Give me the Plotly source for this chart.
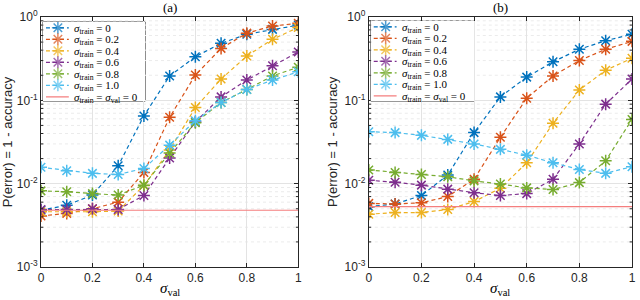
import plotly.graph_objects as go

# ---------------- data ----------------
sigma_val = [0.0, 0.1, 0.2, 0.3, 0.4, 0.5, 0.6, 0.7, 0.8, 0.9, 1.0]
train_labels = ["0", "0.2", "0.4", "0.6", "0.8", "1.0"]
colors = ["#0072BD", "#D95319", "#EDB120", "#7E2F8E", "#77AC30", "#4DBEEE"]
ref_color = "#F47E7E"

# panel (a)
a_s00 = [0.0048, 0.0055, 0.0073, 0.0164, 0.065, 0.196, 0.334, 0.483, 0.62, 0.71, 0.80]
a_s02 = [0.0041, 0.0044, 0.0050, 0.0060, 0.0136, 0.0625, 0.201, 0.42, 0.64, 0.78, 0.84]
a_s04 = [0.0046, 0.0046, 0.0046, 0.0047, 0.0095, 0.0253, 0.082, 0.18, 0.34, 0.54, 0.75]
a_s06 = [0.0049, 0.0049, 0.0050, 0.0049, 0.0072, 0.0203, 0.055, 0.11, 0.175, 0.26, 0.38]
a_s08 = [0.0082, 0.0080, 0.0076, 0.0073, 0.0096, 0.0233, 0.054, 0.094, 0.135, 0.196, 0.25]
a_s10 = [0.0157, 0.0143, 0.0133, 0.0129, 0.0152, 0.029, 0.057, 0.094, 0.135, 0.175, 0.22]
a_ref = 0.0048

# panel (b)
b_s00 = [0.0053, 0.0057, 0.0072, 0.0127, 0.041, 0.11, 0.19, 0.29, 0.41, 0.52, 0.62]
b_s02 = [0.0058, 0.0057, 0.0059, 0.0070, 0.0113, 0.036, 0.106, 0.196, 0.30, 0.41, 0.51]
b_s04 = [0.0043, 0.0045, 0.0045, 0.0049, 0.0061, 0.0088, 0.0178, 0.053, 0.133, 0.23, 0.32]
b_s06 = [0.0110, 0.0104, 0.0096, 0.0086, 0.0078, 0.0072, 0.0076, 0.0113, 0.030, 0.090, 0.18]
b_s08 = [0.0146, 0.0136, 0.0129, 0.0121, 0.0108, 0.0099, 0.0089, 0.0085, 0.0103, 0.0188, 0.059]
b_s10 = [0.042, 0.041, 0.038, 0.034, 0.030, 0.0258, 0.022, 0.0178, 0.0148, 0.0133, 0.016]
b_ref = 0.0053

x_tickvals = [0, 0.2, 0.4, 0.6, 0.8, 1.0]
x_ticktext = ["0", "0.2", "0.4", "0.6", "0.8", "1"]
y_tickvals = [1e-3, 1e-2, 1e-1, 1]
y_ticktext = ["10<sup>-3</sup>", "10<sup>-2</sup>", "10<sup>-1</sup>", "10<sup>0</sup>"]

panel_a = [a_s00, a_s02, a_s04, a_s06, a_s08, a_s10]
panel_b = [b_s00, b_s02, b_s04, b_s06, b_s08, b_s10]

# ---------------- layout helpers ----------------
W, H = 640, 300
ML, MR, MT, MB = 41, 4, 17, 33
PW, PH = W - ML - MR, H - MT - MB


def px(p):
    return (p - ML) / PW


def py(p):
    return (H - MB - p) / PH


SERIF = "Liberation Serif, DejaVu Serif, serif"
SANS = "Liberation Sans, Arial, sans-serif"
AX = "#262626"
GRID = "#e3e3e3"
MINOR_GRID = "#ebebeb"

fig = go.Figure()


def add_panel(series, ref, xa, ya):
    for vals, c in zip(series, colors):
        fig.add_trace(go.Scatter(
            x=sigma_val, y=vals, mode="lines+markers", xaxis=xa, yaxis=ya,
            line=dict(color=c, width=1.2, dash="4px,3px"),
            marker=dict(symbol="asterisk-open", size=10,
                        line=dict(color=c, width=1.5)),
            showlegend=False, hoverinfo="skip"))
    fig.add_trace(go.Scatter(
        x=[sigma_val[0], sigma_val[-1]], y=[ref, ref], mode="lines",
        xaxis=xa, yaxis=ya, line=dict(color=ref_color, width=1.2),
        showlegend=False, hoverinfo="skip"))


add_panel(panel_a, a_ref, "x", "y")
add_panel(panel_b, b_ref, "x2", "y2")

# ---------------- custom compact legends (MATLAB style) ----------------
legend_texts = ["<i>σ</i><sub>train</sub> = " + t for t in train_labels]
legend_texts.append("<i>σ</i><sub>train</sub> = <i>σ</i><sub>val</sub> = 0")


def add_legend(xa, ya):
    x0, xm, x1, xt = 3, 15, 26, 29
    n = len(legend_texts)
    for i in range(n):
        yrow = 5.8 + 11.5 * i
        if i < len(colors):
            c = colors[i]
            fig.add_trace(go.Scatter(
                x=[x0, xm, x1], y=[yrow] * 3, mode="lines+markers",
                xaxis=xa, yaxis=ya,
                line=dict(color=c, width=1.2, dash="4px,3px"),
                marker=dict(symbol="asterisk-open", size=[0, 10, 0],
                            line=dict(color=c, width=1.5)),
                showlegend=False, hoverinfo="skip"))
        else:
            fig.add_trace(go.Scatter(
                x=[x0, x1], y=[yrow] * 2, mode="lines", xaxis=xa, yaxis=ya,
                line=dict(color=ref_color, width=1.2),
                showlegend=False, hoverinfo="skip"))
        fig.add_annotation(x=xt, y=yrow + 0.8, xref=xa, yref=ya,
                           text=legend_texts[i],
                           showarrow=False, xanchor="left", yanchor="middle",
                           font=dict(family=SERIF, size=11, color="black"))
    fig.add_shape(type="rect", xref=xa + " domain", yref=ya + " domain",
                  x0=0, x1=1, y0=0, y1=1, layer="below",
                  fillcolor="white", line=dict(color="#333333", width=1))


add_legend("x3", "y3")
add_legend("x4", "y4")

# ---------------- axes ----------------
minor_vals = [m * 10 ** e for e in (-3, -2, -1) for m in range(2, 10)]

# minor (dotted) log grid lines and small inside minor ticks
for xa, ya in (("x", "y"), ("x2", "y2")):
    for v in minor_vals:
        fig.add_shape(type="line", xref=xa + " domain", yref=ya,
                      x0=0, x1=1, y0=v, y1=v, layer="below",
                      line=dict(color=MINOR_GRID, width=1, dash="dot"))
        for a, b in ((0, 0.009), (0.991, 1)):
            fig.add_shape(type="line", xref=xa + " domain", yref=ya,
                          x0=a, x1=b, y0=v, y1=v, layer="above",
                          line=dict(color=AX, width=1))


def xaxis_style(domain, anchor):
    return dict(domain=domain, anchor=anchor, range=[0, 1],
                tickmode="array", tickvals=x_tickvals, ticktext=x_ticktext,
                ticks="inside", ticklen=4, tickcolor=AX, tickwidth=1,
                showline=True, linecolor=AX, linewidth=1, mirror="ticks",
                showgrid=True, gridcolor=GRID, gridwidth=1, zeroline=False,
                tickfont=dict(family=SANS, size=12, color="#262626"),
                fixedrange=True)


def yaxis_style(anchor):
    return dict(domain=[0, 1], anchor=anchor, type="log", range=[-3, 0],
                tickmode="array", tickvals=y_tickvals, ticktext=y_ticktext,
                ticks="inside", ticklen=4, tickcolor=AX, tickwidth=1,
                showline=True, linecolor=AX, linewidth=1, mirror="ticks",
                showgrid=True, gridcolor=GRID, gridwidth=1, zeroline=False,
                tickfont=dict(family=SANS, size=12, color="#262626"),
                fixedrange=True)


hidden = dict(visible=False, fixedrange=True, showgrid=False, zeroline=False)

fig.update_layout(
    width=W, height=H,
    margin=dict(l=ML, r=MR, t=MT, b=MB),
    paper_bgcolor="white", plot_bgcolor="white",
    showlegend=False,
    xaxis=xaxis_style([0, px(300)], "y"),
    yaxis=yaxis_style("x"),
    xaxis2=xaxis_style([px(371), 1], "y2"),
    yaxis2=yaxis_style("x2"),
    xaxis3=dict(hidden, domain=[px(43), px(146)], anchor="y3", range=[0, 103]),
    yaxis3=dict(hidden, domain=[py(101), py(22)], anchor="x3", range=[79, 0]),
    xaxis4=dict(hidden, domain=[px(373), px(477)], anchor="y4", range=[0, 104]),
    yaxis4=dict(hidden, domain=[py(101), py(21)], anchor="x4", range=[80, 0]),
)

# titles, axis labels
for xd, label in (("x domain", "(a)"), ("x2 domain", "(b)")):
    fig.add_annotation(x=0.5, y=py(8), xref=xd, yref="paper", text=label,
                       showarrow=False, xanchor="center", yanchor="middle",
                       font=dict(family=SERIF, size=13, color="black"))
    fig.add_annotation(x=0.5, y=py(289), xref=xd, yref="paper",
                       text="<i>σ</i><sub>val</sub>", showarrow=False,
                       xanchor="center", yanchor="middle",
                       font=dict(family=SERIF, size=15, color="black"))

for xpix in (7, 334):
    fig.add_annotation(x=px(xpix), y=0.5, xref="paper", yref="paper",
                       text="P(error) = 1 - accuracy", textangle=-90,
                       showarrow=False, xanchor="center", yanchor="middle",
                       font=dict(family=SANS, size=13, color="#262626"))

fig.write_html("out.html",
               config={"displayModeBar": False},
               post_script="document.body.style.margin='0';"
                           "document.body.style.overflow='hidden';")
